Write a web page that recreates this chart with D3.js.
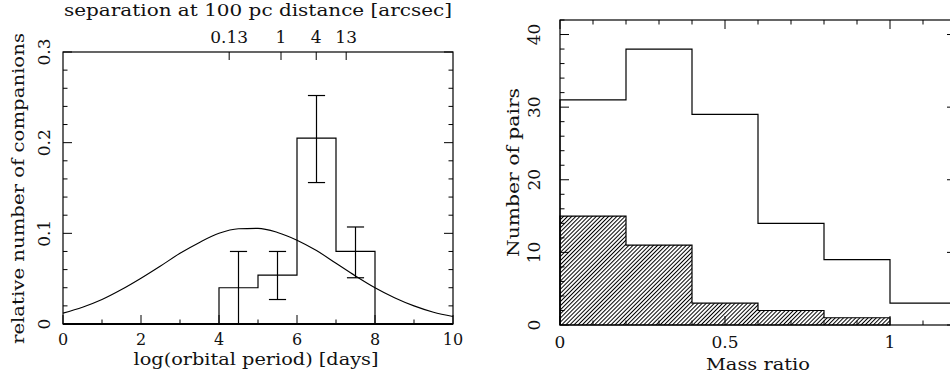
<!DOCTYPE html>
<html><head><meta charset="utf-8">
<script src="https://cdn.jsdelivr.net/npm/d3@7"></script>
<style>
html,body{margin:0;padding:0;background:#fff;}
svg{display:block;font-family:"DejaVu Serif",serif;}
</style></head>
<body>
<svg id="c" width="950" height="376"></svg>
<script>
// ---------- Left panel data ----------
const binEdgesP = [4, 5, 6, 7, 8];            // log(P) bin edges
const relCompanions = [0.040, 0.054, 0.205, 0.080];
const errCenters = [4.5, 5.5, 6.5, 7.5];
const errLow = [0.000, 0.027, 0.156, 0.051];
const errHigh = [0.080, 0.080, 0.252, 0.107];
const curveX = [0,0.5,1,1.5,2,2.5,3,3.5,4,4.5,5,5.5,6,6.5,7,7.5,8,8.5,9,9.5,10];
const curveY = [0.012,0.0185,0.027,0.038,0.0505,0.064,0.078,0.090,0.100,0.105,0.1055,0.101,0.0925,0.081,0.067,0.053,0.040,0.029,0.020,0.013,0.0082];
const sepTicks = [0.13, 1, 4, 13];
const sepTickLabels = ["0.13", "1", "4", "13"];
const logPAt1Arcsec = 5.59;
const xTicksLeft = [0, 2, 4, 6, 8, 10];
const yTicksLeft = [0, 0.1, 0.2, 0.3];
// ---------- Right panel data ----------
const qEdges = [0, 0.2, 0.4, 0.6, 0.8, 1.0, 1.2];
const pairsAll = [31, 38, 29, 14, 9, 3];
const pairsHatched = [15, 11, 3, 2, 1];
const xTicksRight = [0, 0.5, 1];
const xTickLabelsRight = ["0", "0.5", "1"];
const yTicksRight = [0, 10, 20, 30, 40];

const svg = d3.select("#c");
const defs = svg.append("defs");
const pat = defs.append("pattern").attr("id","hatch").attr("patternUnits","userSpaceOnUse")
  .attr("width",2.9).attr("height",2.9).attr("patternTransform","rotate(45)");
pat.append("line").attr("x1",0.5).attr("y1",0).attr("x2",0.5).attr("y2",2.9)
  .attr("stroke","#000").attr("stroke-width",1);

const FS = 17;
function txt(g, x, y, s, opts={}) {
  const t = g.append("text").attr("x", x).attr("y", y).text(s)
    .attr("font-size", opts.fs || FS).attr("fill", "#111")
    .attr("text-anchor", opts.anchor || "middle");
  if (opts.len) t.attr("textLength", opts.len).attr("lengthAdjust", "spacingAndGlyphs");
  if (opts.rot) t.attr("transform", `rotate(-90 ${x} ${y})`);
  return t;
}

// =============== LEFT PANEL ===============
{
  const L = 63, R = 453, T = 52, B = 324;
  const x = d3.scaleLinear().domain([0, 10]).range([L, R]);
  const y = d3.scaleLinear().domain([0, 0.3]).range([B, T]);
  const g = svg.append("g");

  // frame
  g.append("rect").attr("x",L).attr("y",T).attr("width",R-L).attr("height",B-T)
    .attr("fill","none").attr("stroke","#000").attr("stroke-width",1.2);

  // x ticks bottom
  d3.range(0, 10.001, 1).forEach(v => {
    const major = Math.abs(v % 2) < 1e-9;
    g.append("line").attr("x1",x(v)).attr("x2",x(v)).attr("y1",B).attr("y2",B-(major?9:4.5))
      .attr("stroke","#000");
  });
  // y ticks both sides
  d3.range(0, 0.3001, 0.02).forEach(v => {
    const major = Math.abs(Math.round(v*10) - v*10) < 1e-6;
    const len = major ? 9 : 4.5;
    g.append("line").attr("x1",L).attr("x2",L+len).attr("y1",y(v)).attr("y2",y(v)).attr("stroke","#000");
    g.append("line").attr("x1",R).attr("x2",R-len).attr("y1",y(v)).attr("y2",y(v)).attr("stroke","#000");
  });
  // top separation axis
  const sepScale = d3.scaleLog()
    .domain([Math.pow(10, (0 - logPAt1Arcsec) / 1.5), Math.pow(10, (10 - logPAt1Arcsec) / 1.5)])
    .range([L, R]);
  sepTicks.forEach((s, i) => {
    g.append("line").attr("x1",sepScale(s)).attr("x2",sepScale(s)).attr("y1",T).attr("y2",T+8).attr("stroke","#000");
    txt(g, sepScale(s), 43, sepTickLabels[i]);
  });

  // histogram step line incl. baseline
  const pts = [[0,0],[binEdgesP[0],0]];
  relCompanions.forEach((v,i) => { pts.push([binEdgesP[i], v]); pts.push([binEdgesP[i+1], v]); });
  pts.push([binEdgesP[binEdgesP.length-1], 0]); pts.push([10, 0]);
  g.append("path").attr("d", d3.line().x(d=>x(d[0])).y(d=>y(d[1]))(pts))
    .attr("fill","none").attr("stroke","#000").attr("stroke-width",1.2);
  g.append("line").attr("x1",L).attr("x2",R).attr("y1",B).attr("y2",B).attr("stroke","#000").attr("stroke-width",2);

  // error bars
  errCenters.forEach((c,i) => {
    const cw = 0.22;
    g.append("line").attr("x1",x(c)).attr("x2",x(c)).attr("y1",y(errLow[i])).attr("y2",y(errHigh[i])).attr("stroke","#000").attr("stroke-width",1.2);
    g.append("line").attr("x1",x(c-cw)).attr("x2",x(c+cw)).attr("y1",y(errHigh[i])).attr("y2",y(errHigh[i])).attr("stroke","#000").attr("stroke-width",1.2);
    if (errLow[i] > 0)
      g.append("line").attr("x1",x(c-cw)).attr("x2",x(c+cw)).attr("y1",y(errLow[i])).attr("y2",y(errLow[i])).attr("stroke","#000").attr("stroke-width",1.2);
  });

  // gaussian curve
  g.append("path").datum(curveX.map((v,i)=>[v,curveY[i]]))
    .attr("d", d3.line().x(d=>x(d[0])).y(d=>y(d[1])).curve(d3.curveMonotoneX))
    .attr("fill","none").attr("stroke","#000").attr("stroke-width",1.1);

  // tick labels
  xTicksLeft.forEach(v => txt(g, x(v), 345, String(v), {fs:16}));
  yTicksLeft.forEach(v => txt(g, 50, y(v), v === 0 ? "0" : String(v), {rot:true}));

  // titles
  txt(g, 258, 16, "separation at 100 pc distance [arcsec]", {len:388});
  txt(g, 256, 365, "log(orbital period) [days]", {len:245});
  txt(g, 24, 188.5, "relative number of companions", {rot:true, len:311});
}

// =============== RIGHT PANEL ===============
{
  const L = 560, R = 956, T = 20, B = 325;
  const x = d3.scaleLinear().domain([0, 1.2]).range([L, R]);
  const y = d3.scaleLinear().domain([0, 42]).range([B, T]);
  const g = svg.append("g");

  // hatched histogram
  const hp = [[0,0]];
  pairsHatched.forEach((v,i) => { hp.push([qEdges[i], v]); hp.push([qEdges[i+1], v]); });
  hp.push([qEdges[pairsHatched.length], 0]);
  g.append("path").attr("d", d3.line().x(d=>x(d[0])).y(d=>y(d[1]))(hp) + "Z")
    .attr("fill","url(#hatch)").attr("stroke","#000").attr("stroke-width",1.2);

  // open histogram
  const op = [[0,0]];
  pairsAll.forEach((v,i) => { op.push([qEdges[i], v]); op.push([qEdges[i+1], v]); });
  op.push([qEdges[pairsAll.length], 0]);
  g.append("path").attr("d", d3.line().x(d=>x(d[0])).y(d=>y(d[1]))(op))
    .attr("fill","none").attr("stroke","#000").attr("stroke-width",1.2);

  // frame
  g.append("rect").attr("x",L).attr("y",T).attr("width",R-L).attr("height",B-T)
    .attr("fill","none").attr("stroke","#000").attr("stroke-width",1.2);

  // x ticks top and bottom
  d3.range(0, 1.2001, 0.1).forEach(v => {
    const major = Math.abs(v*2 - Math.round(v*2)) < 1e-6;
    const len = major ? 9 : 4.5;
    g.append("line").attr("x1",x(v)).attr("x2",x(v)).attr("y1",B).attr("y2",B-len).attr("stroke","#000");
    g.append("line").attr("x1",x(v)).attr("x2",x(v)).attr("y1",T).attr("y2",T+len).attr("stroke","#000");
  });
  // y ticks both sides
  d3.range(0, 42.001, 2).forEach(v => {
    const major = v % 10 === 0;
    const len = major ? 9 : 4.5;
    g.append("line").attr("x1",L).attr("x2",L+len).attr("y1",y(v)).attr("y2",y(v)).attr("stroke","#000");
    g.append("line").attr("x1",R).attr("x2",R-len).attr("y1",y(v)).attr("y2",y(v)).attr("stroke","#000");
  });

  xTicksRight.forEach((v,i) => txt(g, x(v), 348, xTickLabelsRight[i]));
  yTicksRight.forEach(v => txt(g, 540, y(v), String(v), {rot:true}));

  txt(g, 758, 370, "Mass ratio", {len:104});
  txt(g, 519, 172.5, "Number of pairs", {rot:true, len:169});
}
</script>
</body></html>
